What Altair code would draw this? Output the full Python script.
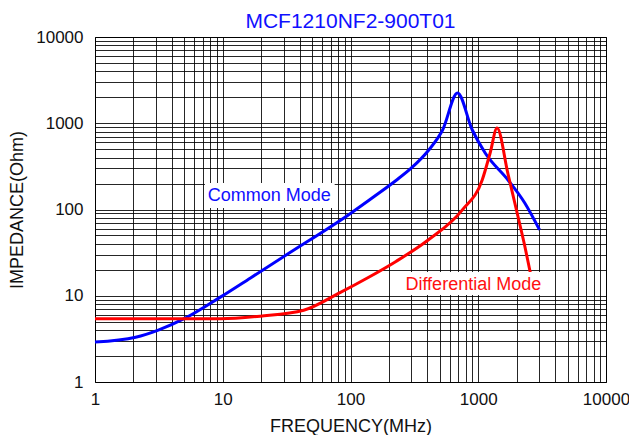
import altair as alt
import pandas as pd

# Common mode impedance (blue)
cm_freq = [1, 2.08, 3.13, 5.08, 9.65, 16.5, 32, 100, 159, 227, 300, 410, 526, 688, 898, 1133, 1710, 2313, 3020]
cm_imp = [2.9, 3.3, 4.0, 5.5, 9.7, 16.1, 30.2, 90, 147, 217, 303, 490, 835, 2243, 835, 452, 220, 119, 58]

# Differential mode impedance (red)
dm_freq = [1, 9.65, 19.7, 43, 82, 140, 227, 403, 751, 1074, 1239, 1403, 1710, 2042, 2313, 2530, 2650]
dm_imp = [5.4, 5.4, 5.8, 6.8, 10.8, 16.5, 25, 44, 99, 220, 452, 881, 258, 84, 37.7, 19.9, 14.5]

# Annotation labels
ann_text = ["Common Mode", "Differential Mode"]
ann_color = ["#1010ff", "#ff1010"]
ann_f = [23.1, 915]
ann_z = [143, 13.3]
ann_f1 = [7.25, 248]
ann_f2 = [75.2, 3305]
ann_z1 = [104, 10.2]
ann_z2 = [203, 18.9]

grid_vals = [m * 10 ** k for k in range(4) for m in range(1, 10)] + [10000]
label_expr = ("datum.value == 1 || datum.value == 10 || datum.value == 100 || "
              "datum.value == 1000 || datum.value == 10000 ? format(datum.value, 'd') : ''")

lines = pd.concat([
    pd.DataFrame({"f": cm_freq, "z": cm_imp, "mode": "Common Mode", "order": range(len(cm_freq))}),
    pd.DataFrame({"f": dm_freq, "z": dm_imp, "mode": "Differential Mode", "order": range(len(dm_freq))}),
])
ann = pd.DataFrame({"text": ann_text, "color": ann_color, "f": ann_f, "z": ann_z,
                    "f1": ann_f1, "f2": ann_f2, "z1": ann_z1, "z2": ann_z2})

xscale = alt.Scale(type="log", domain=[1, 10000], nice=False)
yscale = alt.Scale(type="log", domain=[1, 10000], nice=False)
xaxis = alt.Axis(values=grid_vals, labelExpr=label_expr, title="FREQUENCY(MHz)",
                 ticks=False, domain=False, grid=True, gridColor="#000000", gridWidth=1,
                 gridOpacity=0.85, labelPadding=9, titlePadding=10, labelFontSize=17,
                 titleFontSize=18, labelFlush=False, labelOverlap=False)
yaxis = alt.Axis(values=grid_vals, labelExpr=label_expr, title="IMPEDANCE(Ohm)",
                 ticks=False, domain=False, grid=True, gridColor="#000000", gridWidth=1,
                 gridOpacity=0.85, labelPadding=12, titlePadding=9, labelFontSize=17,
                 titleFontSize=18, labelFlush=False, labelOverlap=False)

base_lines = alt.Chart(lines).mark_line(strokeWidth=3, interpolate="monotone").encode(
    x=alt.X("f:Q", scale=xscale, axis=xaxis),
    y=alt.Y("z:Q", scale=yscale, axis=yaxis),
    color=alt.Color("mode:N", scale=alt.Scale(domain=["Common Mode", "Differential Mode"],
                                              range=["#0000ff", "#ff0000"]), legend=None),
    order="order:Q",
    detail="mode:N",
)

boxes = alt.Chart(ann).mark_rect(color="white").encode(
    x=alt.X("f1:Q", scale=xscale, axis=xaxis),
    x2="f2:Q",
    y=alt.Y("z1:Q", scale=yscale, axis=yaxis),
    y2="z2:Q",
)

texts = alt.Chart(ann).mark_text(fontSize=18, align="center", baseline="middle").encode(
    x=alt.X("f:Q", scale=xscale, axis=xaxis),
    y=alt.Y("z:Q", scale=yscale, axis=yaxis),
    text="text:N",
    color=alt.Color("color:N", scale=None),
)

chart = alt.layer(base_lines, boxes, texts).properties(
    width=511, height=345,
    autosize="none",
    padding={"left": 87, "top": 29, "right": 23, "bottom": 53},
    title=alt.TitleParams("MCF1210NF2-900T01", color="#1010ff", fontSize=21,
                          fontWeight="normal", offset=-4, anchor="middle"),
).configure(font="Liberation Sans").configure_axis(
    labelColor="#111111", titleColor="#111111", titleFontWeight="normal"
).configure_view(stroke="#000000", strokeWidth=1)

chart.save("out.html", embed_options={"renderer": "svg", "actions": False})
